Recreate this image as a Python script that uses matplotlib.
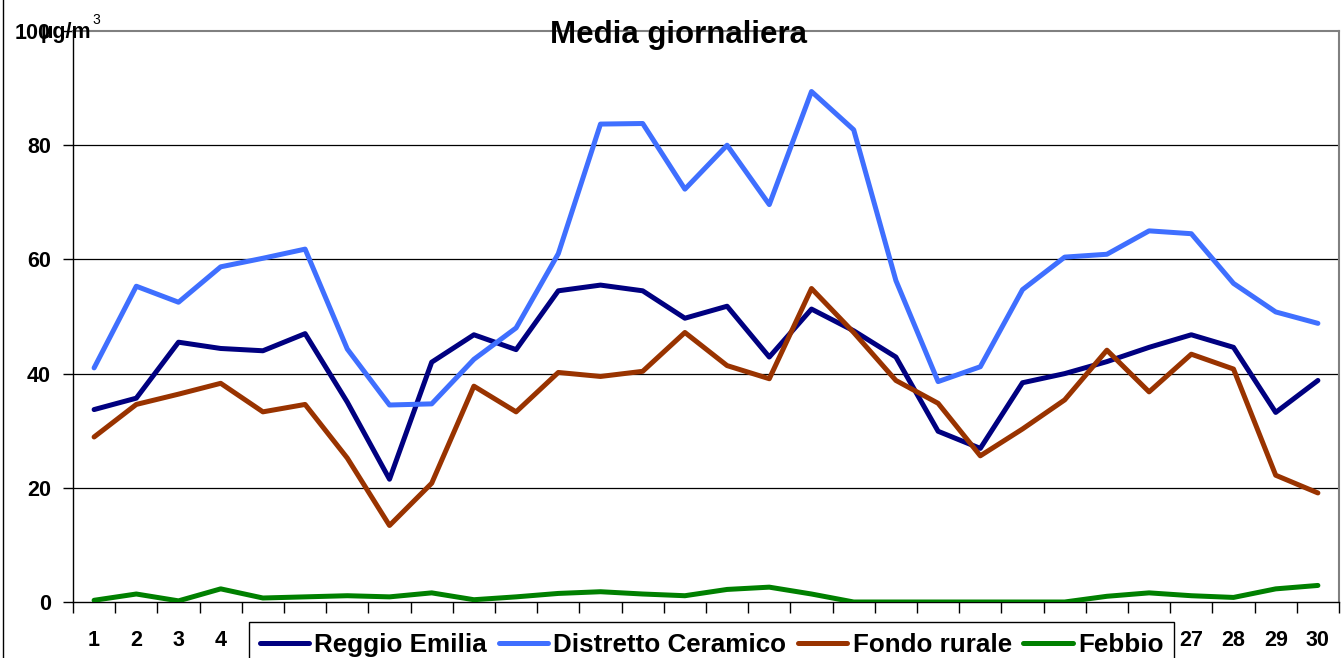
import numpy as np
import matplotlib
matplotlib.use("Agg")
import matplotlib.pyplot as plt
from matplotlib.lines import Line2D

plt.rcParams['font.family'] = ['Liberation Sans', 'DejaVu Sans']
plt.rcParams['font.weight'] = 'bold'

# Data
days = list(range(1, 31))
reggio_emilia = [33.7, 35.7, 45.5, 44.4, 44.0, 47.0, 35.0, 21.5, 42.0, 46.8,
                 44.2, 54.5, 55.5, 54.5, 49.7, 51.8, 42.9, 51.3, 47.5, 42.9,
                 29.9, 26.9, 38.4, 40.0, 42.1, 44.6, 46.8, 44.6, 33.2, 38.8]
distretto_ceramico = [41.0, 55.3, 52.5, 58.7, 60.2, 61.8, 44.3, 34.5, 34.7, 42.5,
                      48.0, 61.0, 83.7, 83.8, 72.3, 80.0, 69.6, 89.4, 82.7, 56.3,
                      38.6, 41.2, 54.7, 60.4, 60.9, 65.0, 64.5, 55.8, 50.8, 48.8]
fondo_rurale = [28.9, 34.6, 36.4, 38.3, 33.3, 34.6, 25.2, 13.4, 20.8, 37.8,
                33.3, 40.2, 39.5, 40.4, 47.2, 41.4, 39.1, 54.9, 47.2, 38.8,
                34.8, 25.6, 30.3, 35.4, 44.1, 36.8, 43.4, 40.8, 22.2, 19.1]
febbio = [0.3, 1.4, 0.2, 2.3, 0.7, 0.9, 1.1, 0.9, 1.6, 0.4,
          0.9, 1.5, 1.8, 1.4, 1.1, 2.2, 2.6, 1.4, 0.0, 0.0,
          0.0, 0.0, 0.0, 0.0, 1.0, 1.6, 1.1, 0.8, 2.3, 2.9]
y_ticks = [0, 20, 40, 60, 80, 100]

W, H = 1341, 658
fig = plt.figure(figsize=(W / 100, H / 100), dpi=100)
ax = fig.add_axes([73 / W, 56 / H, 1266 / W, 571 / H])

series = [
    ('Reggio Emilia', reggio_emilia, '#000080'),
    ('Distretto Ceramico', distretto_ceramico, '#3F6FFF'),
    ('Fondo rurale', fondo_rurale, '#993300'),
    ('Febbio', febbio, '#008000'),
]
for name, vals, col in series:
    ax.plot(days, vals, color=col, lw=3.6, label=name, solid_capstyle='round',
            solid_joinstyle='round', zorder=3)

ax.set_xlim(0.5, 30.5)
ax.set_ylim(0, 100)

# gridlines
for v in y_ticks[1:-1]:
    ax.axhline(v, color='black', lw=0.9, zorder=1)

ax.set_yticks(y_ticks)
ax.set_yticklabels(['0', '20', '40', '60', '80', '100'], fontsize=15.5, fontweight='bold')
ax.tick_params(axis='y', direction='out', length=7, width=1, pad=9)

# ticks at category boundaries, labels at centers
ax.set_xticks(np.arange(0.5, 31, 1))
ax.set_xticklabels([])
ax.set_xticks(days, minor=True)
ax.set_xticklabels([str(d) for d in days], minor=True, fontsize=15.5, fontweight='bold')
ax.tick_params(axis='x', which='major', direction='out', length=8, width=1)
ax.tick_params(axis='x', which='minor', length=0, pad=20)

for s in ['left', 'bottom']:
    ax.spines[s].set_color('black')
    ax.spines[s].set_linewidth(1)
for s in ['top', 'right']:
    ax.spines[s].set_color('#808080')
    ax.spines[s].set_linewidth(1.5)

fig.text(678 / W, 1 - 35 / H, 'Media giornaliera', ha='center', va='center',
         fontsize=22.5, fontweight='bold')
fig.text(41 / W, 1 - 38 / H, 'µg/m', ha='left', va='baseline',
         fontsize=15.5, fontweight='bold')
fig.text(92 / W, 1 - 24 / H, '3', ha='left', va='baseline',
         fontsize=10, fontweight='normal')

fig.add_artist(Line2D([3 / W, 3 / W], [0, 1], color='black', lw=1))

leg = fig.legend(loc='upper left', bbox_to_anchor=(249 / W, 1 - 622 / H), ncol=4,
                 frameon=True, fancybox=False, framealpha=1, edgecolor='black',
                 prop={'size': 18.7, 'weight': 'bold'}, handlelength=1.9,
                 handletextpad=0.2, columnspacing=0.45, borderpad=0.42,
                 borderaxespad=0)
leg.get_frame().set_linewidth(1)
leg.set_zorder(10)

fig.savefig('out.png', dpi=100, facecolor='white')
